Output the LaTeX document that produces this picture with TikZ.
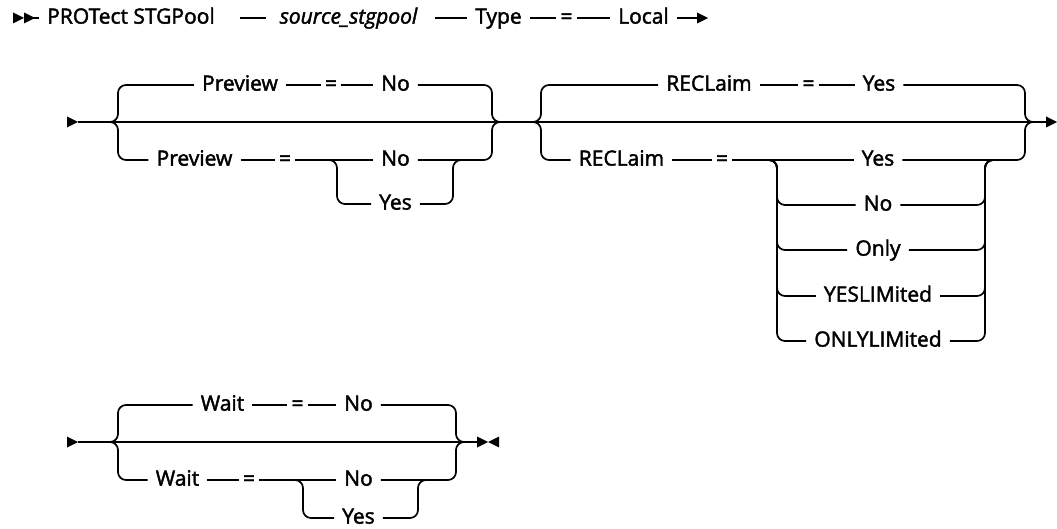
\documentclass[tikz,border=0pt]{standalone}
\usepackage{fontspec}
\setmainfont{Open Sans}[FakeBold=2]

\begin{document}
\fontsize{21}{24}\selectfont
\begin{tikzpicture}[x=1pt, y=-1pt,
    rail/.style={line width=1.7pt},
    railbend/.style={line width=1.7pt, rounded corners=8pt},
    kw/.style={anchor=mid, inner xsep=8pt, inner ysep=2pt},
    kweq/.style={kw, inner xsep=4pt},
    tip/.pic={\fill (0,-5.5) -- (11,0) -- (0,5.5) -- cycle;}]
    \useasboundingbox (0,0) rectangle (1057,529);

    % Row 1: command
    \coordinate (s1) at (13,18);
    \coordinate (e1) at (697,18);
    \pic at (s1) {tip};
    \pic at (24,18) {tip};
    \node[kw] (cmd) at (131,18) {PROTect STGPool};
    \node[kw] (src) at (348.5,18) {\itshape source\_stgpool};
    \node[kw] (type) at (498.5,18) {Type};
    \node[kweq] (eq) at (566.5,18) {=};
    \node[kw] (local) at (643.5,18) {Local};
    \draw[rail] ([xshift=20pt]s1) -- (cmd.mid west);
    \draw[rail, shorten <=17pt, shorten >=6pt] (cmd.mid east) -- (src.mid west);
    \draw[rail, shorten <=10pt] (src.mid east) -- (type.mid west);
    \draw[rail] (type.mid east) -- (eq.mid west) (eq.mid east) -- (local.mid west);
    \draw[rail] (local.mid east) -- (e1);
    \pic at (e1) {tip};

    % Row 2: main line
    \coordinate (s2) at (67,122);
    \coordinate (e2) at (1046,122);
    \pic at (s2) {tip};
    \draw[rail] ([xshift=11pt]s2) -- (e2);
    \pic at (e2) {tip};

    % Preview choice
    \coordinate (pvL) at (110,122);
    \coordinate (pvR) at (500,122);
    \node[kw] (pvA) at (240,85) {Preview};
    \node[kweq] (pvAeq) at (331,85) {=};
    \node[kw] (pvAno) at (395.5,85) {No};
    \node[kw] (pvB) at (194.5,160) {Preview};
    \node[kweq] (pvBeq) at (285,160) {=};
    \node[kw] (pvBno) at (395.5,160) {No};
    \node[kw] (pvByes) at (395.5,204) {Yes};
    \draw[railbend] (pvL) -| (118,85) -- (pvA.mid west);
    \draw[rail] (pvA.mid east) -- (pvAeq.mid west) (pvAeq.mid east) -- (pvAno.mid west);
    \draw[railbend] (pvAno.mid east) -| (492,122) -- (pvR);
    \draw[railbend] (pvL) -| (118,160) -- (pvB.mid west);
    \draw[rail] (pvB.mid east) -- (pvBeq.mid west) (pvBeq.mid east) -- (pvBno.mid west);
    \draw[railbend] (pvBno.mid east) -| (492,122) -- (pvR);
    \draw[railbend] (329,160) -- (337,160) |- (pvByes.mid west);
    \draw[railbend] (pvByes.mid east) -| (453,160) -- (461,160);

    % RECLaim choice
    \coordinate (rcL) at (533,122);
    \coordinate (rcR) at (1033,122);
    \node[kw] (rcA) at (709,85) {RECLaim};
    \node[kweq] (rcAeq) at (808.5,85) {=};
    \node[kw] (rcAyes) at (879,85) {Yes};
    \node[kw] (rcB) at (621.5,160) {RECLaim};
    \node[kweq] (rcBeq) at (722,160) {=};
    \foreach \name/\txt/\y in {yes/Yes/160, no/No/205, only/Only/250, yl/YESLIMited/296, ol/ONLYLIMited/341}
        \node[kw] (rc\name) at (878,\y) {\txt};
    \draw[railbend] (rcL) -| (541,85) -- (rcA.mid west);
    \draw[rail] (rcA.mid east) -- (rcAeq.mid west) (rcAeq.mid east) -- (rcAyes.mid west);
    \draw[railbend] (rcAyes.mid east) -| (1025,122) -- (rcR);
    \draw[railbend] (rcL) -| (541,160) -- (rcB.mid west);
    \draw[rail] (rcB.mid east) -- (rcBeq.mid west) (rcBeq.mid east) -- (rcyes.mid west);
    \draw[railbend] (rcyes.mid east) -| (1025,122) -- (rcR);
    \foreach \name in {no, only, yl, ol} {
        \draw[railbend] (769,160) -- (777,160) |- (rc\name.mid west);
        \draw[railbend] (rc\name.mid east) -| (985,160) -- (993,160);
    }

    % Row 3: Wait choice
    \coordinate (s3) at (67,442);
    \coordinate (e3) at (477,442);
    \coordinate (wL) at (110,442);
    \coordinate (wR) at (464,442);
    \pic at (s3) {tip};
    \draw[rail] ([xshift=11pt]s3) -- (e3);
    \pic at (e3) {tip};
    \pic[xscale=-1] at (499,442) {tip};
    \node[kw] (wA) at (222.5,405) {Wait};
    \node[kweq] (wAeq) at (297.5,405) {=};
    \node[kw] (wAno) at (358.5,405) {No};
    \node[kw] (wB) at (177.5,480) {Wait};
    \node[kweq] (wBeq) at (249,480) {=};
    \node[kw] (wBno) at (358.5,480) {No};
    \node[kw] (wByes) at (358.5,518) {Yes};
    \draw[railbend] (wL) -| (118,405) -- (wA.mid west);
    \draw[rail] (wA.mid east) -- (wAeq.mid west) (wAeq.mid east) -- (wAno.mid west);
    \draw[railbend] (wAno.mid east) -| (456,442) -- (wR);
    \draw[railbend] (wL) -| (118,480) -- (wB.mid west);
    \draw[rail] (wB.mid east) -- (wBeq.mid west) (wBeq.mid east) -- (wBno.mid west);
    \draw[railbend] (wBno.mid east) -| (456,442) -- (wR);
    \draw[railbend] (295,480) -- (303,480) |- (wByes.mid west);
    \draw[railbend] (wByes.mid east) -| (418,480) -- (426,480);
\end{tikzpicture}
\end{document}
